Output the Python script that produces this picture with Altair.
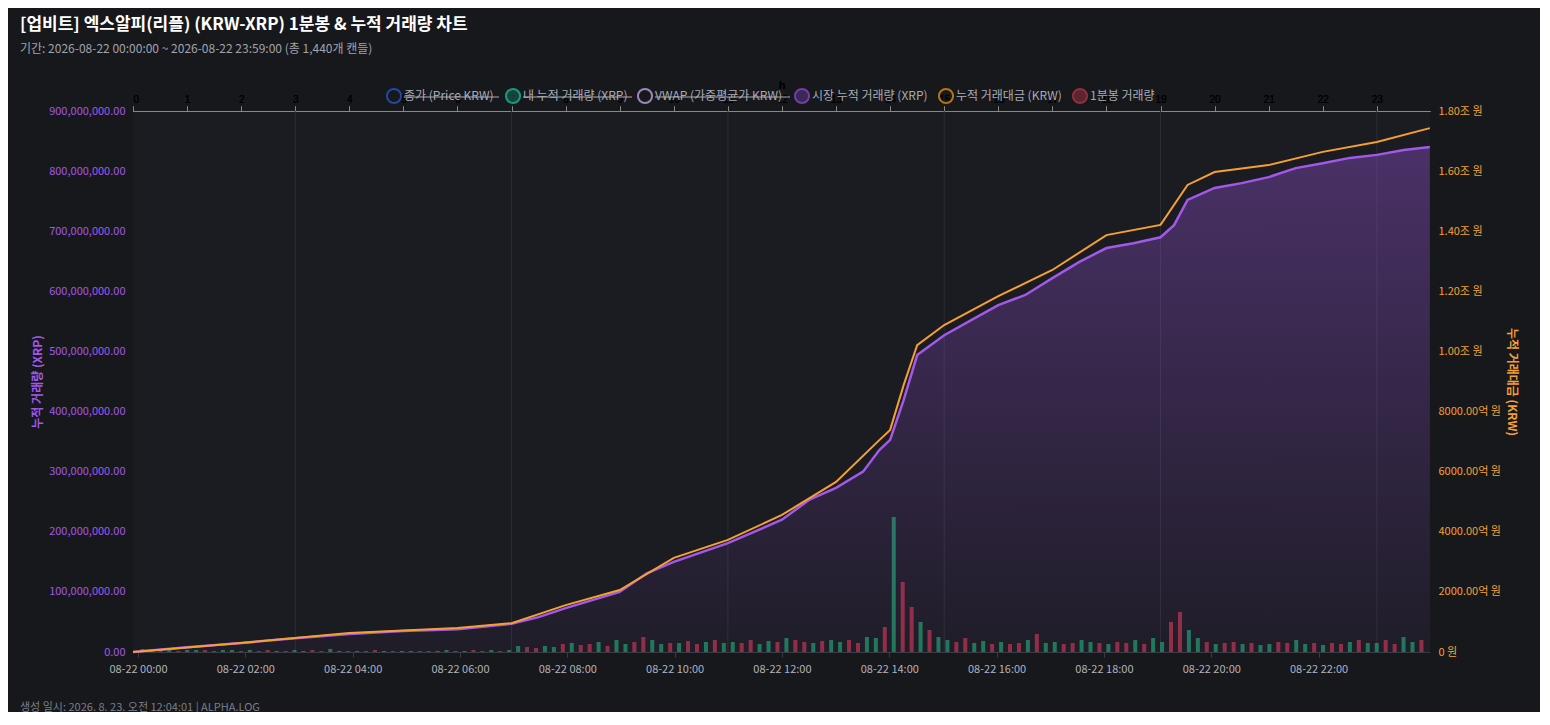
import pandas as pd
import altair as alt

# cumulative market volume (XRP), read at these hours
vol_hours = [0, 1, 2, 3, 4, 5, 6, 7, 7.5, 8, 9, 9.5, 10, 11, 12, 12.5, 13, 13.5, 13.8, 14,
             14.25, 14.5, 15, 15.5, 16, 16.5, 17, 17.5, 18, 18.5, 19, 19.25, 19.5, 20,
             20.5, 21, 21.5, 22, 22.5, 23, 23.5, 23.98]
cum_xrp = [0, 8e6, 15e6, 23e6, 30e6, 35e6, 38e6, 47e6, 58e6, 73e6, 100e6, 131e6, 150e6,
           181e6, 220e6, 253e6, 273e6, 300e6, 336e6, 353e6, 419e6, 494e6, 527e6, 552e6,
           577e6, 594e6, 622e6, 649e6, 672e6, 680e6, 690e6, 710e6, 752e6, 772e6, 780e6,
           790e6, 805e6, 813e6, 822e6, 827e6, 835e6, 840e6]

# cumulative traded value (KRW)
krw_hours = [0, 2, 4, 6, 7, 8, 9, 10, 11, 12, 13, 13.8, 14, 14.25, 14.5, 15, 16, 17, 18,
             19, 19.5, 20, 21, 22, 23, 23.98]
cum_krw = [0, 3.0e10, 6.3e10, 8.0e10, 9.6e10, 1.56e11, 2.06e11, 3.13e11, 3.73e11, 4.56e11,
           5.66e11, 7.05e11, 7.39e11, 8.88e11, 1.021e12, 1.088e12, 1.184e12, 1.271e12,
           1.387e12, 1.421e12, 1.554e12, 1.597e12, 1.620e12, 1.664e12, 1.697e12, 1.743e12]

# per-candle volume (10-minute sampling), arbitrary units
bar_vol = [3, 2, 2, 2, 1, 2, 2, 2, 1, 2, 2, 1, 2, 1, 2, 1, 1, 2, 1, 2, 1, 3, 1, 1,
           1, 1, 2, 1, 1, 1, 1, 1, 1, 1, 2, 1, 1, 2, 1, 2, 1, 2, 6, 5, 4, 6, 5, 8,
           9, 7, 8, 10, 6, 12, 8, 10, 15, 12, 8, 9, 9, 11, 8, 10, 12, 9, 10, 9, 12, 8, 11, 10,
           14, 12, 10, 9, 11, 12, 10, 12, 9, 15, 14, 25, 135, 70, 45, 30, 22, 15,
           12, 10, 14, 9, 11, 8, 10, 8, 9, 12, 18, 9, 10, 8, 9, 12, 10, 9,
           8, 10, 9, 12, 8, 14, 10, 30, 40, 22, 14, 10, 8, 9, 10, 8, 9, 7,
           8, 10, 9, 12, 8, 9, 7, 9, 8, 10, 12, 9, 9, 12, 8, 15, 10, 12]
bar_dir = ("udduduudduud" * 12)[:len(bar_vol)]

grid_hours = [3, 7, 11, 15, 19, 23]

PURPLE = "#a259e8"
ORANGE = "#f5a030"
FONT = "Noto Sans CJK KR"

W, H = 1297, 541

vol_df = pd.DataFrame({"h": vol_hours, "v": cum_xrp})
krw_df = pd.DataFrame({"h": krw_hours, "v": cum_krw})
bar_df = pd.DataFrame({"h": [i / 6 + 1 / 12 for i in range(len(bar_vol))],
                       "v": bar_vol,
                       "d": [("상승" if c == "u" else "하락") for c in bar_dir]})
grid_df = pd.DataFrame({"h": grid_hours})

x_scale = alt.Scale(domain=[0, 23.983], nice=False, zero=False)
x_axis = alt.Axis(values=list(range(0, 24, 2)),
                  labelExpr="'08-22 ' + (datum.value < 10 ? '0' : '') + datum.value + ':00'",
                  grid=False, labelColor="#b0b3bd", labelFont=FONT, labelFontSize=11,
                  domainColor="#3a3b44", tickColor="#3a3b44", title=None, labelPadding=6)

base = alt.Chart(vol_df)

vgrid = alt.Chart(grid_df).mark_rule(color="#2c2d35", strokeWidth=1).encode(
    x=alt.X("h:Q", scale=x_scale, axis=None), y=alt.value(0), y2=alt.value(H))

bars = alt.Chart(bar_df).mark_bar(size=4, opacity=0.75).encode(
    x=alt.X("h:Q", scale=x_scale, axis=x_axis),
    y=alt.Y("v:Q", axis=None, scale=alt.Scale(domain=[0, 541])),
    color=alt.Color("d:N", scale=alt.Scale(domain=["상승", "하락"], range=["#1e9a6a", "#b8344e"]),
                    legend=None),
)

left_axis = alt.Axis(orient="left", format=",.2f", values=[i * 1e8 for i in range(10)],
                     labelColor=PURPLE, labelFont=FONT, labelFontSize=11, gridColor="#2a2b33",
                     domain=False, ticks=False, title="누적 거래량 (XRP)", titleColor=PURPLE,
                     titleFont=FONT, titleFontSize=12, titleFontWeight="bold", labelPadding=8)
area = base.mark_area(
    color=alt.Gradient(gradient="linear", x1=0, x2=0, y1=0, y2=1,
                       stops=[alt.GradientStop(color="rgba(162,89,232,0.35)", offset=0),
                              alt.GradientStop(color="rgba(162,89,232,0.03)", offset=1)])
).encode(x=alt.X("h:Q", scale=x_scale),
         y=alt.Y("v:Q", scale=alt.Scale(domain=[0, 9e8]), axis=left_axis))
pline = base.mark_line(color=PURPLE, strokeWidth=2.5).encode(
    x=alt.X("h:Q", scale=x_scale), y=alt.Y("v:Q"))
purple = alt.layer(area, pline)

right_axis = alt.Axis(orient="right", values=[i * 2e11 for i in range(10)],
                      labelExpr="datum.value == 0 ? '0 원' : (datum.value >= 1e12 ? format(datum.value / 1e12, '.2f') + '조 원' : format(datum.value / 1e8, '.2f') + '억 원')",
                      labelColor=ORANGE, labelFont=FONT, labelFontSize=11, grid=False,
                      domain=False, ticks=False, title="누적 거래대금 (KRW)", titleColor=ORANGE,
                      titleFont=FONT, titleFontSize=12, titleFontWeight="bold", labelPadding=8)
orange = alt.Chart(krw_df).mark_line(color=ORANGE, strokeWidth=2).encode(
    x=alt.X("h:Q", scale=x_scale),
    y=alt.Y("v:Q", scale=alt.Scale(domain=[0, 1.8e12]), axis=right_axis))

# legend (decoration)
leg = pd.DataFrame({
    "label": ["종가 (Price KRW)", "내 누적 거래량 (XRP)", "VWAP (가중평균가 KRW)",
              "시장 누적 거래량 (XRP)", "누적 거래대금 (KRW)", "1분봉 거래량"],
    "cx": [394, 513, 645, 802, 946, 1080],
    "tw": [95, 109, 135, 0, 0, 0],
    "stroke": ["#1f5fe0", "#19d1a8", "#d8b4fe", "#9b4fe0", "#f59e0b", "#c23a4d"],
    "fill": ["rgba(0,0,0,0)", "#17594b", "rgba(0,0,0,0)", "#4a2f73", "rgba(0,0,0,0)", "#7a2a36"],
})
leg["px"] = leg["cx"] - 133
leg["tx"] = leg["px"] + 10
leg["te"] = leg["tx"] + leg["tw"]
ly = -15
dots = alt.Chart(leg).mark_point(shape="circle", size=200, strokeWidth=2, filled=False).encode(
    x=alt.X("px:Q", scale=None), y=alt.value(ly),
    stroke=alt.Stroke("stroke:N", scale=None), fill=alt.Fill("fill:N", scale=None))
ltext = alt.Chart(leg).mark_text(align="left", baseline="middle", font=FONT, fontSize=12,
                                 color="#a8abb5").encode(
    x=alt.X("tx:Q", scale=None), y=alt.value(ly), text="label:N")
strike = alt.Chart(leg[leg["tw"] > 0]).mark_rule(color="#a8abb5", strokeWidth=1.2).encode(
    x=alt.X("tx:Q", scale=None), x2="te:Q", y=alt.value(ly + 1))

texts = pd.DataFrame({
    "t": ["[업비트] 엑스알피(리플) (KRW-XRP) 1분봉 & 누적 거래량 차트",
          "기간: 2026-08-22 00:00:00 ~ 2026-08-22 23:59:00 (총 1,440개 캔들)",
          "생성 일시: 2026. 8. 23. 오전 12:04:01 | ALPHA.LOG"],
    "y": [-86, -62, 597], "s": [17, 12, 11], "w": ["bold", "normal", "normal"],
    "c": ["#ffffff", "#a0a3ad", "#7c7f88"]})
tmarks = []
for _, r in texts.iterrows():
    tmarks.append(alt.Chart(pd.DataFrame({"t": [r["t"]]})).mark_text(
        align="left", baseline="middle", font=FONT, fontSize=int(r["s"]),
        fontWeight=r["w"], color=r["c"]).encode(
        x=alt.value(-113), y=alt.value(int(r["y"])), text="t:N"))

chart = alt.layer(vgrid, bars, purple, orange, dots, ltext, strike, *tmarks).resolve_scale(
    y="independent", x="independent").properties(
    width=W, height=H,
    background="#17181c",
    padding={"left": 125, "top": 103, "right": 110, "bottom": 60},
    autosize=alt.AutoSizeParams(type="none"),
).configure_view(fill="#1b1b22", stroke=None)

chart.save("out.html", embed_options={"renderer": "svg", "actions": False})
